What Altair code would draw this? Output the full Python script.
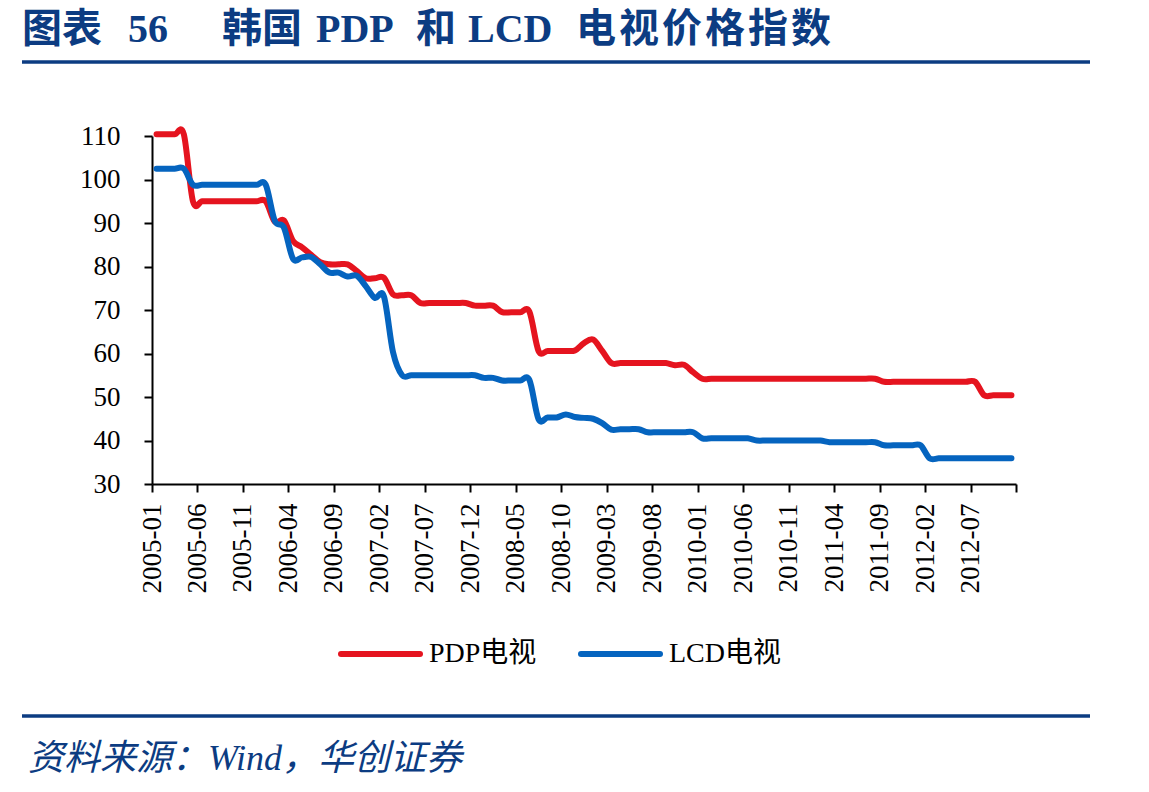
import altair as alt
import pandas as pd

# ---------------- data ----------------
tick_labels = ["2005-01", "2005-06", "2005-11", "2006-04", "2006-09", "2007-02",
               "2007-07", "2007-12", "2008-05", "2008-10", "2009-03", "2009-08",
               "2010-01", "2010-06", "2010-11", "2011-04", "2011-09", "2012-02",
               "2012-07"]

pdp = [110.4, 110.4, 110.4, 110.4,
       95.0, 95.0, 95.0, 95.0, 95.0, 95.0, 95.0, 95.0, 95.0,
       90.3, 90.6,
       85.9, 84.4, 82.7, 81.0,
       80.5, 80.5, 80.5,
       79.0,
       77.3, 77.3, 77.4,
       73.6, 73.4, 73.4,
       71.6, 71.6, 71.6, 71.6, 71.6, 71.6,
       71.0, 71.0, 71.0,
       69.5, 69.5, 69.5, 69.6,
       60.6, 60.6, 60.6, 60.6, 60.7,
       62.4, 63.2,
       60.6,
       57.8, 57.8, 57.8, 57.8, 57.8, 57.8, 57.8,
       57.3, 57.4,
       55.7,
       54.2, 54.2, 54.2, 54.2, 54.2, 54.2, 54.2, 54.2, 54.2, 54.2,
       54.2, 54.2, 54.2, 54.2, 54.2, 54.2, 54.2, 54.2, 54.2, 54.2,
       53.5, 53.5, 53.5, 53.5, 53.5, 53.5, 53.5, 53.5, 53.5, 53.5, 53.5,
       50.4, 50.4, 50.4, 50.4]

lcd = [102.5, 102.5, 102.5, 102.5,
       98.8, 98.8, 98.8, 98.8, 98.8, 98.8, 98.8, 98.8, 98.8,
       90.5, 89.0,
       81.8, 82.1, 82.2,
       80.5,
       78.6, 78.6,
       77.7, 77.9,
       75.5,
       72.8, 73.1,
       60.3,
       55.0, 55.0, 55.0, 55.0, 55.0, 55.0, 55.0, 55.0, 55.0,
       54.4, 54.4,
       53.8, 53.8, 53.8, 53.9,
       44.9, 45.3, 45.3, 46.0, 45.4, 45.2, 45.0,
       44.0,
       42.5, 42.6, 42.6, 42.6,
       41.9, 41.9, 41.9, 41.9, 41.9, 41.9,
       40.5, 40.5, 40.5, 40.5, 40.5, 40.5,
       40.0, 40.0, 40.0, 40.0, 40.0, 40.0, 40.0, 40.0,
       39.6, 39.6, 39.6, 39.6, 39.6, 39.6,
       38.9, 38.9, 38.9, 38.9, 38.9,
       35.9, 35.9, 35.9, 35.9, 35.9, 35.9, 35.9, 35.9, 35.9, 35.9]

series_names = ["PDP电视", "LCD电视"]
series_colors = ["#E5141F", "#0564BF"]

title_parts = ["图表", "56", "韩国", "PDP", "和", "LCD", "电", "视", "价", "格", "指", "数"]
source_text = "资料来源：Wind，华创证券"

n = len(pdp)
rows = []
for name, vals in zip(series_names, [pdp, lcd]):
    for i, v in enumerate(vals):
        rows.append({"series": name, "t": i + 0.5, "value": v})
df = pd.DataFrame(rows)

# ---------------- layout constants ----------------
W, H = 864, 348          # plot area
PL, PT = 152, 136        # plot origin in the page
NAVY = "#0C3C82"
SERIF = "Liberation Serif, Noto Sans CJK SC"

label_js = "[" + ",".join("'%s'" % s for s in tick_labels) + "]"

lines = alt.Chart(df).mark_line(
    interpolate="cardinal", strokeWidth=6, strokeCap="round", strokeJoin="round"
).encode(
    x=alt.X("t:Q",
            scale=alt.Scale(domain=[0, n], nice=False, zero=False),
            axis=alt.Axis(values=list(range(0, n + 1, 5)),
                          labelExpr=label_js + "[datum.value/5] || ''",
                          labelAngle=-90, labelPadding=11, tickSize=8,
                          title=None, grid=False)),
    y=alt.Y("value:Q",
            scale=alt.Scale(domain=[30, 110], nice=False, zero=False),
            axis=alt.Axis(values=list(range(30, 111, 10)), tickSize=8,
                          labelPadding=24, title=None, grid=False)),
    color=alt.Color("series:N",
                    scale=alt.Scale(domain=series_names, range=series_colors),
                    legend=None),
    detail="series:N",
)

one = pd.DataFrame({"a": [0]})

def txt(s, x, y, size, color="black", weight="normal", style="normal",
        font=SERIF, align="left"):
    return alt.Chart(one).mark_text(
        align=align, baseline="middle", fontSize=size, font=font,
        fontWeight=weight, fontStyle=style, color=color
    ).encode(x=alt.value(x), y=alt.value(y), text=alt.value(s))

def hrule(x1, x2, y, color, width):
    return alt.Chart(one).mark_rule(color=color, strokeWidth=width).encode(
        x=alt.value(x1), x2=alt.value(x2), y=alt.value(y))

# title pieces placed like the reference (left edges in page pixels)
title_x = [22, 128, 222, 316, 416, 468, 576, 619, 662, 705, 748, 791]
title_layers = [txt(s, x - PL, 30 - PT, 40, color=NAVY, weight="bold")
                for s, x in zip(title_parts, title_x)]

top_rule = hrule(22 - PL, 1090 - PL, 62 - PT, NAVY, 3.5)
bot_rule = hrule(22 - PL, 1090 - PL, 716 - PT, NAVY, 3.5)
source = txt(source_text, 28 - PL, 759 - PT, 36, color=NAVY, style="italic")

leg_y = 654 - PT
leg = []
for name, col, x0 in zip(series_names, series_colors, [338, 578]):
    leg.append(alt.Chart(one).mark_rule(color=col, strokeWidth=6, strokeCap="round").encode(
        x=alt.value(x0 + 3 - PL), x2=alt.value(x0 + 82 - PL), y=alt.value(leg_y)))
    leg.append(txt(name, x0 + 91 - PL, leg_y, 28))

chart = alt.layer(lines, *title_layers, top_rule, bot_rule, source, *leg).properties(
    width=W, height=H,
    autosize=alt.AutoSizeParams(type="none"),
    padding={"left": PL, "top": PT, "right": 1149 - PL - W, "bottom": 792 - PT - H},
    background="white",
).configure_view(strokeWidth=0).configure_axis(
    domainColor="black", domainWidth=2, tickColor="black", tickWidth=2,
    labelFont="Liberation Serif", labelFontSize=27, labelColor="black",
)

chart.save("out.html", embed_options={"renderer": "svg", "actions": False})
